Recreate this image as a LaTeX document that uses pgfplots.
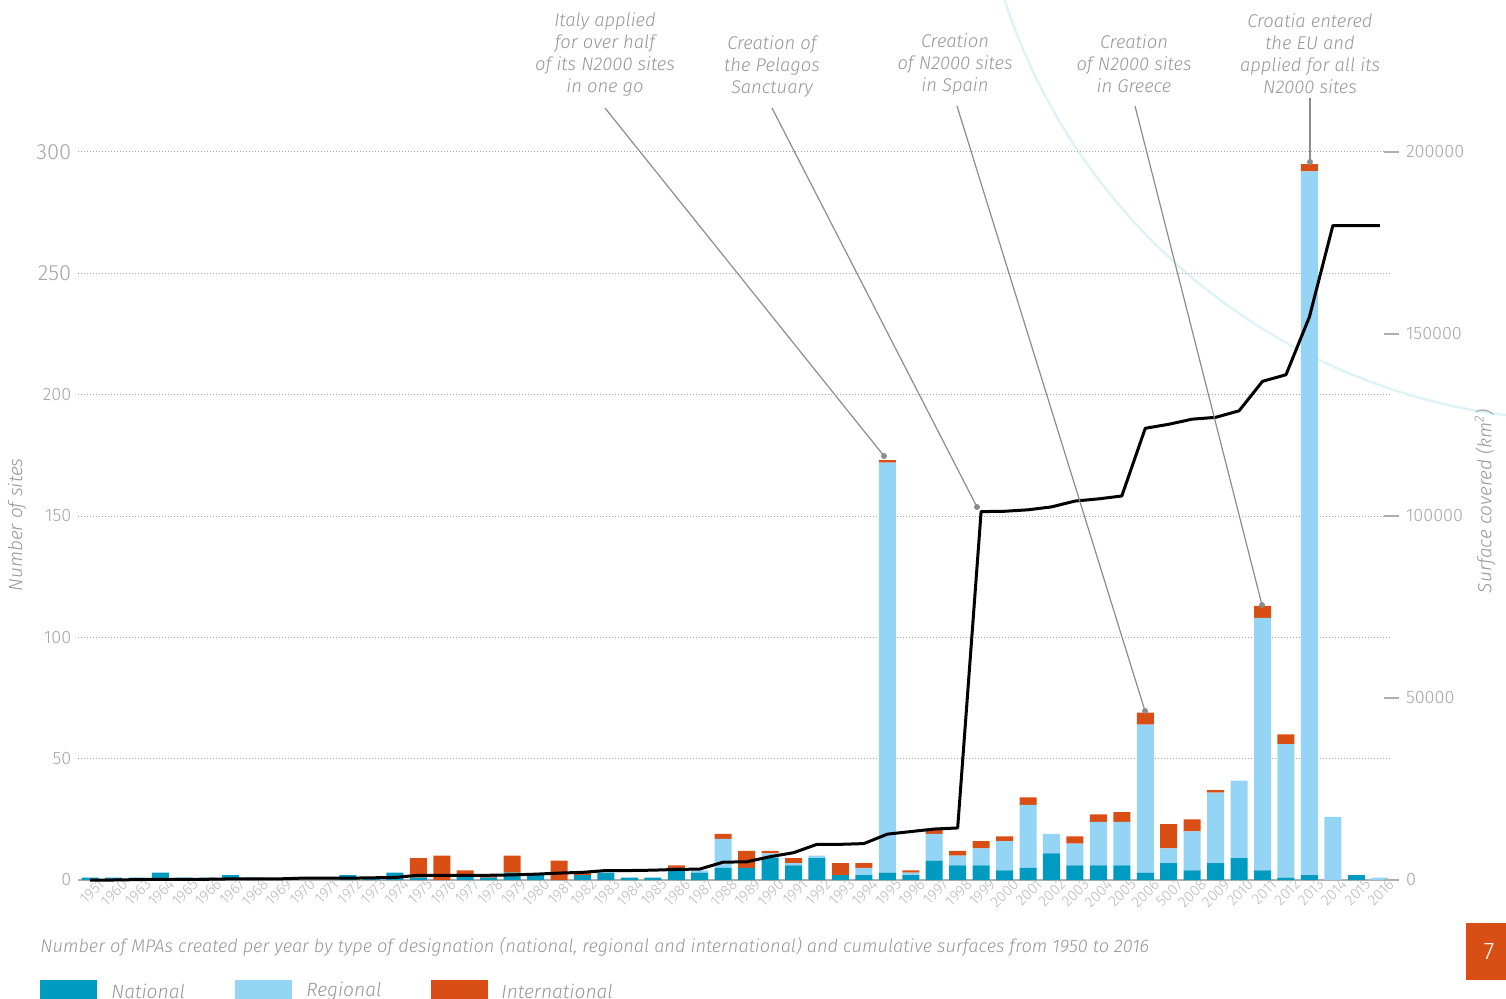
\documentclass[border=0pt]{standalone}
\usepackage{pgfplots}
\pgfplotsset{compat=1.18}
\usepackage{pgfplotstable}
\usepackage{fontspec}
\IfFontExistsTF{Fira Sans Light}{\setmainfont{Fira Sans}[UprightFont={* Light},ItalicFont={* Light Italic},BoldFont={*}]}{\setmainfont{Fira Sans}}
\definecolor{natc}{RGB}{0,155,193}
\definecolor{regc}{RGB}{148,212,245}
\definecolor{intc}{RGB}{217,78,21}
\definecolor{txtgray}{RGB}{150,150,150}
\definecolor{labgray}{RGB}{165,165,165}
\definecolor{xlabgray}{RGB}{185,185,185}
\definecolor{gridgray}{RGB}{165,165,165}
\definecolor{axisgray}{RGB}{175,175,175}
\definecolor{anngray}{RGB}{140,140,140}
\definecolor{arcc}{RGB}{222,243,248}

\pgfplotstableread{
idx year N R I S
0 1951 1 0 0 0
1 1960 1 0 0 0
2 1963 1 0 0 100
3 1964 3 0 0 200
4 1965 1 0 0 200
5 1966 1 0 0 200
6 1967 2 0 0 300
7 1968 1 0 0 300
8 1969 0 0 0 300
9 1970 0 0 0 500
10 1971 0 0 0 500
11 1972 2 0 0 500
12 1973 1 0 0 600
13 1974 3 0 0 700
14 1975 1 0 8 1300
15 1976 0 0 10 1300
16 1977 2 0 2 1300
17 1978 1 0 1 1300
18 1979 3 0 7 1400
19 1980 2 0 0 1600
20 1981 0 0 8 1900
21 1982 2 0 1 2100
22 1983 3 0 0 2600
23 1984 1 0 0 2600
24 1985 1 0 0 2700
25 1986 5 0 1 2900
26 1987 3 1 0 3000
27 1988 5 12 2 4900
28 1989 5 0 7 5000
29 1990 9 2 1 6400
30 1991 6 1 2 7500
31 1992 9 1 0 9800
32 1993 2 0 5 9800
33 1994 2 3 2 10000
34 1995 3 169 1 12600
35 1996 2 1 1 13300
36 1997 8 11 2 14000
37 1998 6 4 2 14300
38 1999 6 7 3 101200
39 2000 4 12 2 101300
40 2001 5 26 3 101700
41 2002 11 8 0 102500
42 2003 6 9 3 104100
43 2004 6 18 3 104700
44 2005 6 18 4 105500
45 2006 3 61 5 124100
46 5007 7 6 10 125200
47 2008 4 16 5 126600
48 2009 7 29 1 127100
49 2010 9 32 0 128900
50 2011 4 104 5 137000
51 2012 1 55 4 138800
52 2013 2 290 3 154700
53 2014 0 26 0 179800
54 2015 2 0 0 179800
55 2016 0 1 0 179800
}\data

\begin{document}
\begin{tikzpicture}
\useasboundingbox (0,0) rectangle (753pt,499pt);
% decorative arc
\begin{scope}[x=0.5pt,y=-0.5pt,yshift=499pt]
\draw[arcc, line width=1.2pt] (1583,-188) circle[radius=608];
\end{scope}

\begin{axis}[
  at={(39.15pt,59pt)}, anchor=south west,
  scale only axis, width=656.6pt, height=364pt,
  xmin=-0.5, xmax=55.5, ymin=0, ymax=300,
  ybar stacked, bar width=8.5pt,
  axis x line*=bottom, axis y line*=left,
  y axis line style={draw=none},
  x axis line style={draw=axisgray, line width=1pt, -},
  major tick length=0pt,
  xtick={0,...,55},
  xticklabels from table={\data}{year},
  xticklabel style={rotate=45, anchor=north east, font=\fontsize{7.6}{8}\selectfont, text=xlabgray, inner sep=0.5pt, xshift=4pt, yshift=-1.5pt},
  ytick={0,50,...,300},
  yticklabels={0,50,100,150,200,{\fontsize{11}{11}\selectfont 250},{\fontsize{11}{11}\selectfont 300}},
  yticklabel style={font=\fontsize{9}{9}\selectfont, text=labgray, /pgf/number format/assume math mode=true},
  ymajorgrids,
  major grid style={draw=gridgray, line width=0.5pt, dash pattern=on 0.5pt off 1pt},
  ylabel={Number of sites},
  ylabel style={at={(axis description cs:-0.0467,0.4876)}, anchor=center, font=\itshape\fontsize{9.5}{10}\selectfont, text=txtgray},
  clip=false,
]
\addplot[fill=natc, draw=none] table[x=idx, y=N]{\data};
\addplot[fill=regc, draw=none] table[x=idx, y=R]{\data};
\addplot[fill=intc, draw=none] table[x=idx, y=I]{\data};
\end{axis}

\begin{axis}[
  at={(39.15pt,59pt)}, anchor=south west,
  scale only axis, width=656.6pt, height=364pt,
  xmin=-0.5, xmax=55.5, ymin=0, ymax=200000,
  axis x line=none, axis y line*=right,
  y axis line style={draw=none},
  ytick={0,50000,...,200000},
  scaled y ticks=false,
  yticklabel style={/pgf/number format/fixed, /pgf/number format/1000 sep={}, /pgf/number format/assume math mode=true, font=\fontsize{9}{9}\selectfont, text=labgray},
  major tick length=7.5pt, tick align=center,
  ytick style={draw=axisgray, line width=1pt},
  ylabel={Surface covered (km\textsuperscript{2})},
  ylabel style={at={(axis description cs:1.0712,0.5206)}, anchor=center, font=\itshape\fontsize{9.5}{10}\selectfont, text=txtgray},
  clip=false,
]
\addplot[black, line width=1.5pt, mark=none, line join=round] table[x=idx, y=S]{\data};
\end{axis}

\begin{scope}[x=0.5pt,y=-0.5pt,yshift=499pt]
% annotations
\tikzset{ann/.style={align=center, font=\itshape\fontsize{9.2}{11}\selectfont, text=txtgray, inner sep=0pt},
         pl/.style={draw=anngray, line width=0.6pt}}
\node[ann] at (605,54) {Italy applied\\for over half\\of its N2000 sites\\in one go};
\node[ann] at (772,66) {Creation of\\the Pelagos\\Sanctuary};
\node[ann] at (955,64) {Creation\\of N2000 sites\\in Spain};
\node[ann] at (1134,64) {Creation\\of N2000 sites\\in Greece};
\node[ann] at (1310,54) {Croatia entered\\the EU and\\applied for all its\\N2000 sites};
\draw[pl] (605,108) -- (884,456);
\fill[anngray] (884,456) circle[radius=3];
\draw[pl] (772,108) -- (977,507);
\fill[anngray] (977,507) circle[radius=3];
\draw[pl] (957,106) -- (1145,711);
\fill[anngray] (1145,711) circle[radius=3];
\draw[pl] (1135,106) -- (1262,605);
\fill[anngray] (1262,605) circle[radius=3];
\draw[pl] (1310,98) -- (1310,162);
\fill[anngray] (1310,162) circle[radius=3];
% caption
\node[anchor=west, inner sep=0pt, font=\itshape\fontsize{9.1}{10}\selectfont, text=txtgray] at (40,947) {Number of MPAs created per year by type of designation (national, regional and international) and cumulative surfaces from 1950 to 2016};
% legend
\fill[natc] (40,980) rectangle (97,1000);
\fill[regc] (235,980) rectangle (292,1000);
\fill[intc] (431,980) rectangle (488,1000);
\node[anchor=west, inner sep=0pt, font=\itshape\fontsize{9.6}{10}\selectfont, text=txtgray] at (111,991) {National};
\node[anchor=west, inner sep=0pt, font=\itshape\fontsize{9.6}{10}\selectfont, text=txtgray] at (306,991) {Regional};
\node[anchor=west, inner sep=0pt, font=\itshape\fontsize{9.6}{10}\selectfont, text=txtgray] at (501,991) {International};
% page number box
\fill[intc] (1466,923) rectangle (1506,980);
\node[text=white, font=\fontsize{12}{12}\selectfont, inner sep=0pt] at (1489,952) {7};
\end{scope}
\end{tikzpicture}
\end{document}
